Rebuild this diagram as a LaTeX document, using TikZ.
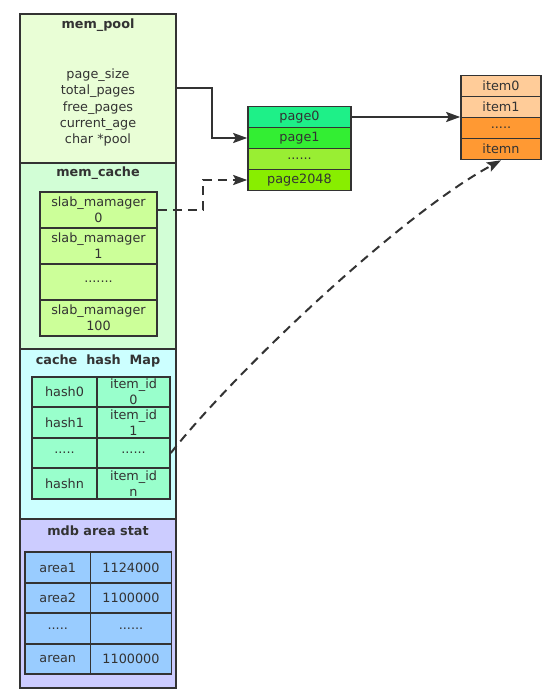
\documentclass[tikz,border=0pt]{standalone}
\usepackage{fontspec}
\setmainfont{DejaVu Sans}
\usepackage{tikz}
\usetikzlibrary{arrows.meta}

\definecolor{linegray}{HTML}{333333}
\definecolor{poolfill}{HTML}{E9FED6}
\definecolor{cachefill}{HTML}{D2FED6}
\definecolor{hashfill}{HTML}{CCFFFF}
\definecolor{areafill}{HTML}{CCCCFF}
\definecolor{slabfill}{HTML}{CCFF99}
\definecolor{hashcell}{HTML}{99FFCC}
\definecolor{areacell}{HTML}{99CCFF}
\definecolor{pagezero}{HTML}{1EF088}
\definecolor{pageone}{HTML}{33EE33}
\definecolor{pagedot}{HTML}{99EE33}
\definecolor{pagelast}{HTML}{88EE00}
\definecolor{itemlight}{HTML}{FFCC99}
\definecolor{itemdark}{HTML}{FF9933}

\begin{document}
\begin{tikzpicture}[x=1pt,y=-1pt,
		every node/.style={font=\fontsize{12.8}{16.2}\selectfont,text=linegray,inner sep=0pt,align=center},
		frame/.style={draw=linegray,line width=1.6pt,minimum width=156pt},
		cell/.style={draw=linegray,line width=1.6pt},
		title/.style={font=\fontsize{12.8}{16.2}\selectfont\bfseries},
		slabcell/.style={cell,fill=slabfill,minimum width=117pt,minimum height=36pt},
		keycell/.style={cell,fill=hashcell,minimum width=65pt,minimum height=30.5pt},
		idcell/.style={cell,fill=hashcell,minimum width=73pt,minimum height=30.5pt},
		areakey/.style={cell,fill=areacell,minimum width=65.5pt,minimum height=30.5pt},
		areaval/.style={cell,fill=areacell,minimum width=81pt,minimum height=30.5pt},
		pagecell/.style={cell,minimum width=103pt,minimum height=21pt},
		itemcell/.style={cell,minimum width=80pt,minimum height=21pt},
		conn/.style={draw=linegray,line width=2pt,-{Stealth[length=14pt,width=10pt,inset=2.5pt]}},
		dashconn/.style={conn,dash pattern=on 9pt off 6pt}]
	\useasboundingbox (0,0) rectangle (550,698);
	% left column
	\node[frame,fill=poolfill,minimum height=149pt] (pool) at (98,88.5){};
	\node[frame,fill=cachefill,minimum height=186pt] (cache) at (98,256){};
	\node[frame,fill=hashfill,minimum height=170pt] (hashmap) at (98,434){};
	\node[frame,fill=areafill,minimum height=169pt] (areastat) at (98,603.5){};
	\node[title] (pooltitle) at (98,25){mem\_pool};
	\node (poolfields) at (98,107.5){page\_size\\total\_pages\\free\_pages\\current\_age\\char *pool};
	\node[title] (cachetitle) at (98,173.5){mem\_cache};
	\node[title] (hashtitle) at (98,360.5){cache\ \ hash\ \ Map};
	\node[title] (areatitle) at (98,531){mdb\ area\ stat};
	% slab managers
	\node[slabcell] (slab0) at (98.5,210){slab\_mamager\\0};
	\node[slabcell] (slab1) at (98.5,246){slab\_mamager\\1};
	\node[slabcell] (slabdots) at (98.5,282){.......};
	\node[slabcell] (slab100) at (98.5,318){slab\_mamager\\100};
	% hash map
	\node[keycell] (hash0) at (64.5,392){hash0};
	\node[idcell] (itemid0) at (133.5,392){item\_id\\0};
	\node[keycell] (hash1) at (64.5,422.5){hash1};
	\node[idcell] (itemid1) at (133.5,422.5){item\_id\\1};
	\node[keycell] (hashdots) at (64.5,453){.....};
	\node[idcell] (itemiddots) at (133.5,453){......};
	\node[keycell] (hashn) at (64.5,483.5){hashn};
	\node[idcell] (itemidn) at (133.5,483.5){item\_id\\n};
	% area stat
	\node[areakey] (area1) at (57.75,567.5){area1};
	\node[areaval] (val1) at (131,567.5){1124000};
	\node[areakey] (area2) at (57.75,598){area2};
	\node[areaval] (val2) at (131,598){1100000};
	\node[areakey] (areadots) at (57.75,628.5){.....};
	\node[areaval] (valdots) at (131,628.5){......};
	\node[areakey] (arean) at (57.75,659){arean};
	\node[areaval] (valn) at (131,659){1100000};
	% pages
	\node[pagecell,fill=pagezero] (page0) at (299.5,117){page0};
	\node[pagecell,fill=pageone] (page1) at (299.5,138){page1};
	\node[pagecell,fill=pagedot] (pagedots) at (299.5,159){......};
	\node[pagecell,fill=pagelast] (page2048) at (299.5,180){page2048};
	% items
	\node[itemcell,fill=itemlight] (item0) at (501,86){item0};
	\node[itemcell,fill=itemlight] (item1) at (501,107){item1};
	\node[itemcell,fill=itemdark] (itemdots) at (501,128){.....};
	\node[itemcell,fill=itemdark] (itemn) at (501,149){itemn};
	% links
	\draw[conn] (pool.east) -- ++(35,0) |- (page1.west);
	\draw[dashconn] (slab0.east) -- ++(45,0) |- (page2048.west);
	\draw[conn] (page0.east) -- (page0.east -| itemdots.west);
	\draw[dashconn] (itemiddots.east) .. controls (235,372) and (400,215) .. (itemn.south);
\end{tikzpicture}
\end{document}
